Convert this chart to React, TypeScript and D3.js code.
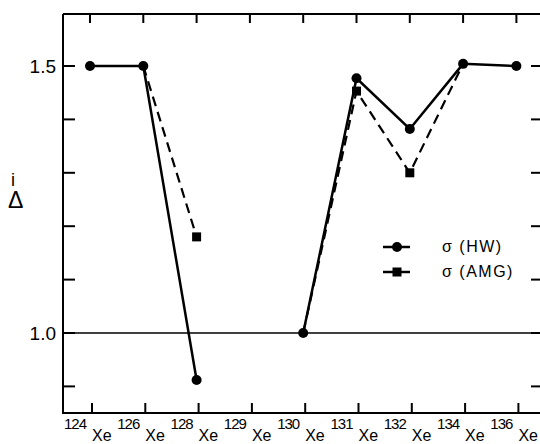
import React from "react";
import * as d3 from "d3";

const W = 540;
const H = 444;
const FONT = "'Liberation Sans', Arial, sans-serif";

// isotopes along the x axis
const masses = ["124", "126", "128", "129", "130", "131", "132", "134", "136"];
// Δ^i values (null = no point)
const hwValues: (number | null)[] = [1.5, 1.5, 0.912, null, 1.0, 1.477, 1.382, 1.504, 1.5];
const amgValues: (number | null)[] = [null, 1.5, 1.18, null, 1.0, 1.453, 1.3, 1.504, null];
const yTicks = [0.9, 1.0, 1.1, 1.2, 1.3, 1.4, 1.5];
const yLabels = [1.0, 1.5];

const LEFT = 63;
const TOP = 14;
const BOTTOM = 413;
const RIGHT = 542;

export default function App() {
  const x = d3.scaleLinear().domain([0, 8]).range([90, 516.4]);
  const y = d3.scaleLinear().domain([1.0, 1.5]).range([333, 66]);

  const line = d3
    .line<number | null>()
    .defined((d) => d != null)
    .x((_, i) => x(i))
    .y((d) => y(d as number));

  const hwPts = hwValues.map((v, i) => ({ v, i })).filter((d) => d.v != null);
  const amgPts = amgValues
    .map((v, i) => ({ v, i }))
    .filter((d) => d.v != null && d.v !== hwValues[d.i]);

  return (
    <svg
      width={W}
      height={H}
      style={{ position: "absolute", left: 0, top: 0, background: "#fff" }}
      fontFamily={FONT}
    >
      {/* frame */}
      <g stroke="#000" strokeWidth={2} fill="none">
        <line x1={LEFT} y1={TOP} x2={RIGHT} y2={TOP} />
        <line x1={LEFT} y1={TOP} x2={LEFT} y2={BOTTOM + 1} />
        <line x1={LEFT} y1={BOTTOM} x2={RIGHT} y2={BOTTOM} />
        <line x1={RIGHT} y1={TOP} x2={RIGHT} y2={BOTTOM} />
      </g>

      {/* reference line at 1.0 */}
      <line x1={LEFT} x2={RIGHT} y1={y(1.0)} y2={y(1.0)} stroke="#000" strokeWidth={1.6} />

      {/* y ticks */}
      <g stroke="#000" strokeWidth={2}>
        {yTicks.map((t) => (
          <g key={t}>
            <line x1={LEFT} x2={LEFT + 12} y1={y(t)} y2={y(t)} />
            <line x1={RIGHT - 11} x2={RIGHT} y1={y(t)} y2={y(t)} />
          </g>
        ))}
      </g>
      {yLabels.map((t) => (
        <text key={t} x={56} y={y(t) + 7} textAnchor="end" fontSize={19} fill="#000">
          {t.toFixed(1)}
        </text>
      ))}

      {/* x ticks */}
      <g stroke="#000" strokeWidth={2}>
        {masses.map((m, i) => (
          <g key={m}>
            <line x1={x(i) + 2} x2={x(i) + 2} y1={BOTTOM} y2={BOTTOM - 10} />
            <line x1={x(i)} x2={x(i)} y1={TOP} y2={TOP + 9} />
          </g>
        ))}
      </g>
      {masses.map((m, i) => (
        <g key={m} fill="#000">
          <text x={x(i) - 4} y={429} textAnchor="end" fontSize={15} letterSpacing={-1}>
            {m}
          </text>
          <text x={x(i) + 2} y={441} fontSize={16}>
            Xe
          </text>
        </g>
      ))}

      {/* y axis title */}
      <text x={11} y={186} fontSize={18} fill="#000">
        i
      </text>
      <text x={8} y={208} fontSize={23} fill="#000">
        Δ
      </text>

      {/* series */}
      <path d={line(amgValues) ?? ""} fill="none" stroke="#000" strokeWidth={2.2} strokeDasharray="10,6" />
      <path d={line(hwValues) ?? ""} fill="none" stroke="#000" strokeWidth={2.5} />
      {amgPts.map((d) => (
        <rect key={d.i} x={x(d.i) - 4.5} y={y(d.v as number) - 4.5} width={9} height={9} fill="#000" />
      ))}
      {hwPts.map((d) => (
        <circle key={d.i} cx={x(d.i)} cy={y(d.v as number)} r={5} fill="#000" />
      ))}

      {/* legend */}
      <g fill="#000" stroke="#000">
        <line x1={383} x2={410} y1={247} y2={247} strokeWidth={2.5} />
        <circle cx={397} cy={247} r={5} stroke="none" />
        <line x1={383} x2={410} y1={272} y2={272} strokeWidth={2.5} />
        <rect x={392.5} y={267.5} width={9} height={9} stroke="none" />
      </g>
      <text x={442} y={252} fontSize={16} fill="#000" letterSpacing={1.5}>
        σ (HW)
      </text>
      <text x={442} y={277} fontSize={16} fill="#000" letterSpacing={1.5}>
        σ (AMG)
      </text>
    </svg>
  );
}
